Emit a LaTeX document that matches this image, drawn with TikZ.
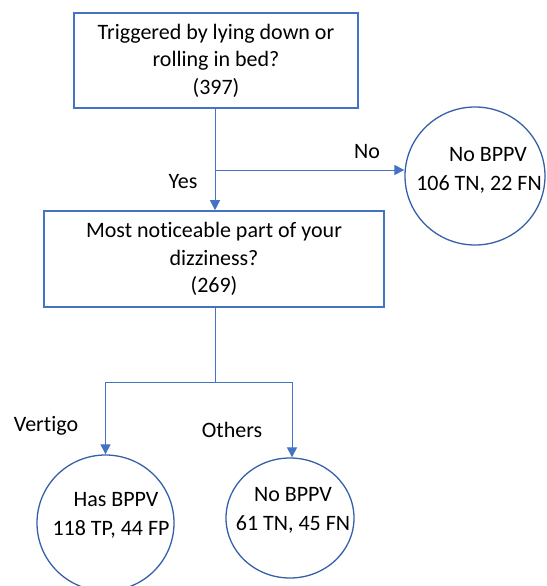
\documentclass[tikz,border=0pt]{standalone}
\usepackage{fontspec}
\setmainfont{Carlito}[Ligatures={NoCommon}]
\usetikzlibrary{arrows.meta,shapes.geometric}
\definecolor{linkblue}{HTML}{4472C4}
\definecolor{ringblue}{HTML}{3560A8}
\tikzset{
  box/.style={draw=linkblue, line width=1.6pt, align=center, inner sep=0pt, font=\fontsize{22}{27.5}\selectfont},
  ring/.style={ellipse, draw=ringblue, line width=1.3pt, inner sep=0pt},
  ringtext/.style={align=center, inner sep=0pt, font=\fontsize{22}{29}\selectfont},
  lbl/.style={inner sep=0pt, font=\fontsize{22}{24}\selectfont},
  link/.style={draw=linkblue, line width=1pt},
  arrowlink/.style={link, -{Triangle[length=10pt,width=10pt]}}
}
\begin{document}
\begin{tikzpicture}[x=1pt,y=-1pt]
\useasboundingbox (0,0) rectangle (546,586);
% boxes
\node[box, minimum width=284pt, minimum height=95pt] (b1) at (216,60.5) {Triggered by lying down or\\rolling in bed?\\(397)};
\node[box, minimum width=340pt, minimum height=96pt] (b2) at (214,259) {Most noticeable part of your\\dizziness?\\(269)};
% circles
\node[ring, minimum width=140pt, minimum height=138pt] (c1) at (475,176) {};
\node[ringtext] (t1) at (479,170) {\hspace*{18pt}No BPPV\\106 TN, 22 FN};
\node[ring, minimum width=137pt, minimum height=136pt] (c2) at (105.5,523) {};
\node[ringtext] (t2) at (111,515.5) {\hspace*{10pt}Has BPPV\\118 TP, 44 FP};
\node[ring, minimum width=128pt, minimum height=120pt] (c3) at (290,518) {};
\node[ringtext] (t3) at (293,510.5) {No BPPV\\61 TN, 45 FN};
% labels
\node[lbl] (lno) at (367,152) {No};
\node[lbl] (lyes) at (183,182) {Yes};
\node[lbl] (lvert) at (46,426) {Vertigo};
\node[lbl] (loth) at (232,430) {Others};
% connectors
\coordinate (split) at (215,170);
\coordinate (fork) at (215,382);
\draw[arrowlink] (b1.south -| split) -- (b2.north -| split);
\draw[arrowlink] (split) -- (split -| c1.west);
\draw[link] (b2.south -| fork) -- (fork);
\draw[arrowlink] (fork) -| (c2.north);
\draw[arrowlink] (fork) -| ([xshift=2pt]c3.north);
\end{tikzpicture}
\end{document}
